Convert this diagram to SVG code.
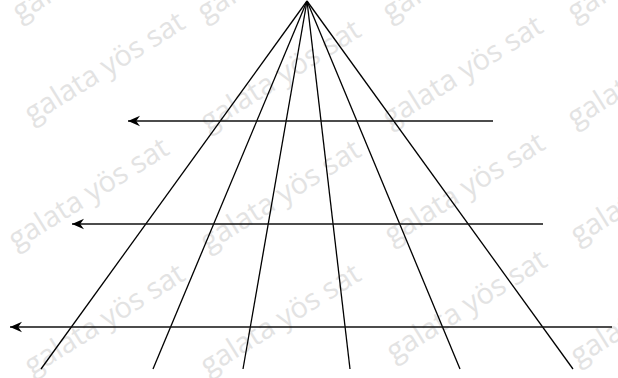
<svg xmlns="http://www.w3.org/2000/svg" xmlns:xlink="http://www.w3.org/1999/xlink" width="618" height="378" viewBox="0 0 618 378">
<style>
.wm{font-family:"Open Sans","Noto Sans",sans-serif;font-size:29px;fill:#e3e3e3}
.fan{stroke:#000;stroke-width:1.3;fill:none;stroke-linecap:butt}
.arr{stroke:#111;stroke-width:1.6;fill:none}
</style>
<defs>
<marker id="ah" markerUnits="userSpaceOnUse" markerWidth="14" markerHeight="12" refX="12" refY="6" orient="auto" viewBox="0 0 14 12">
<path d="M12,6 L0,0.8 L3.8,6 L0,11.2 Z" fill="#000"/>
</marker>
<text id="w" class="wm" transform="rotate(-32)">galata yös sat</text>
</defs>
<rect width="618" height="378" fill="#fff"/>
<g id="watermark">
<use xlink:href="#w" x="20" y="22"/>
<use xlink:href="#w" x="205" y="22"/>
<use xlink:href="#w" x="390" y="22"/>
<use xlink:href="#w" x="575" y="22"/>
<use xlink:href="#w" x="32" y="124"/>
<use xlink:href="#w" x="208" y="132"/>
<use xlink:href="#w" x="390" y="128"/>
<use xlink:href="#w" x="575" y="128"/>
<use xlink:href="#w" x="16" y="250"/>
<use xlink:href="#w" x="208" y="252"/>
<use xlink:href="#w" x="392" y="245"/>
<use xlink:href="#w" x="578" y="245"/>
<use xlink:href="#w" x="32" y="376"/>
<use xlink:href="#w" x="208" y="376"/>
<use xlink:href="#w" x="394" y="362"/>
<use xlink:href="#w" x="578" y="366"/>
</g>
<g id="fan">
<line class="fan" x1="307" y1="1" x2="41" y2="369"/>
<line class="fan" x1="307" y1="1" x2="153" y2="369"/>
<line class="fan" x1="307" y1="1" x2="243" y2="369"/>
<line class="fan" x1="307" y1="1" x2="350" y2="369"/>
<line class="fan" x1="307" y1="1" x2="460" y2="369"/>
<line class="fan" x1="307" y1="1" x2="573" y2="369"/>
</g>
<g id="connectors">
<line class="arr" x1="493" y1="121" x2="128" y2="121" marker-end="url(#ah)"/>
<line class="arr" x1="543" y1="224" x2="72" y2="224" marker-end="url(#ah)"/>
<line class="arr" x1="612" y1="327" x2="10" y2="327" marker-end="url(#ah)"/>
</g>
</svg>
